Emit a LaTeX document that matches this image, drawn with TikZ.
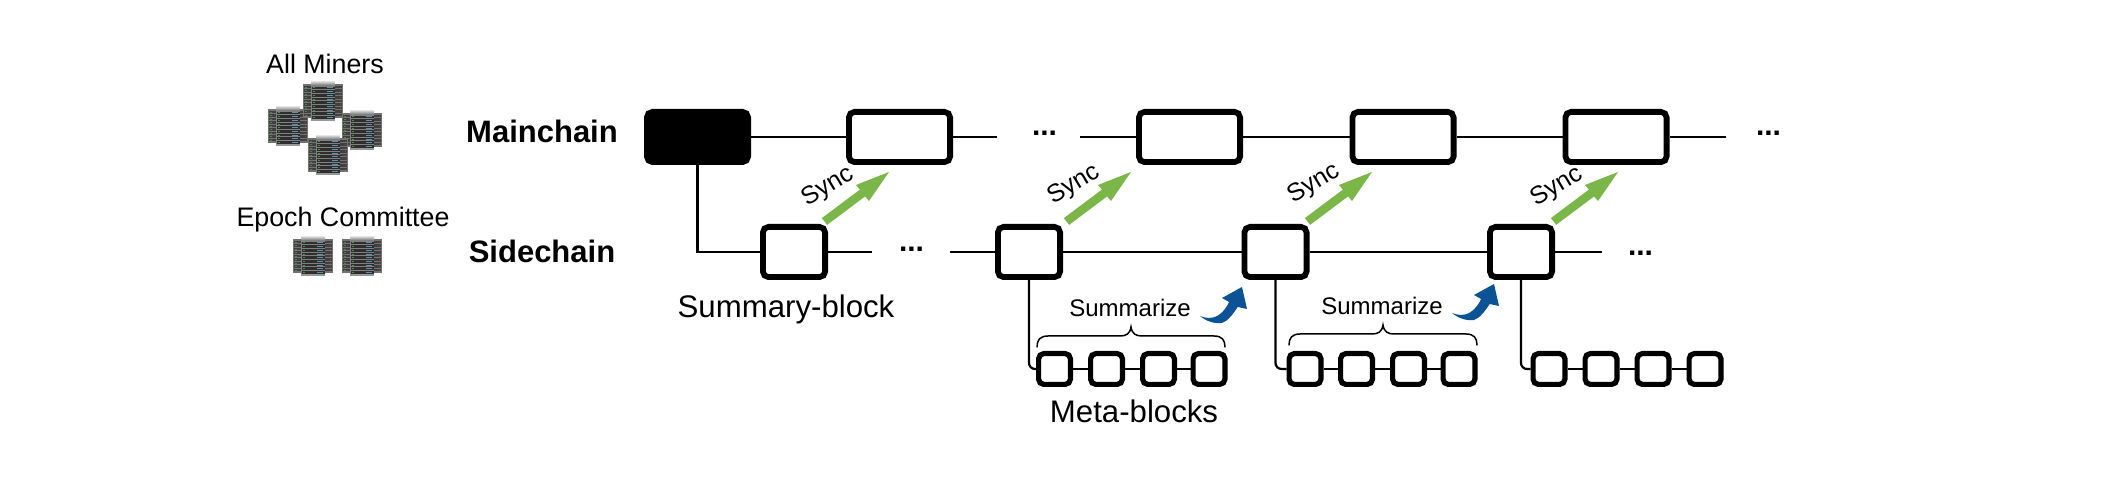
\documentclass[tikz,border=0pt]{standalone}
\usepackage{fontspec}
\setmainfont{Liberation Sans}
\definecolor{syncgreen}{HTML}{7AB648}
\definecolor{sumblue}{HTML}{0B5394}
\tikzset{
  mainblock/.style={draw=black,fill=white,line width=2.9pt,rounded corners=2.8pt,minimum width=50.6pt,minimum height=25.1pt,inner sep=0pt},
  sideblock/.style={draw=black,fill=white,line width=2.9pt,rounded corners=2.8pt,minimum width=31.1pt,minimum height=25.1pt,inner sep=0pt},
  metablock/.style={draw=black,fill=white,line width=2.6pt,rounded corners=2.6pt,minimum width=15.9pt,minimum height=15.4pt,inner sep=0pt},
  chain/.style={line width=1.4pt},
  branch/.style={line width=1.1pt,rounded corners=3pt},
  lbl/.style={inner sep=0pt,anchor=base,font=\fontsize{13.4}{15}\selectfont},
  bigl/.style={inner sep=0pt,anchor=base,font=\fontsize{15.6}{18}\selectfont},
  chainl/.style={inner sep=0pt,anchor=base,font=\fontsize{15.5}{18}\selectfont\bfseries},
  suml/.style={inner sep=0pt,anchor=base,font=\fontsize{12}{14}\selectfont},
  syncl/.style={inner sep=0pt,rotate=31,font=\fontsize{12.5}{14}\selectfont},
  dotsl/.style={inner sep=0pt,font=\fontsize{15}{16}\selectfont\bfseries},
  serverpic/.pic={
    % side wings
    \fill[black!55] (0,2) rectangle (8,36);
    \fill[black!55] (32,2) rectangle (40,36);
    \foreach \i in {0,...,8}{
      \fill[black!75] (1,{4+3.5*\i}) rectangle (8,{6.3+3.5*\i});
      \fill[black!75] (32,{4+3.5*\i}) rectangle (39,{6.3+3.5*\i});
      \fill[green!30!black!70] (2,{4.7+3.5*\i}) rectangle (3.5,{5.6+3.5*\i});
      \fill[red!35!black!75] (36.5,{4.7+3.5*\i}) rectangle (38,{5.6+3.5*\i});
    }
    % central unit
    \shade[top color=black!20,bottom color=black!60] (8,0) rectangle (32,4);
    \fill[black!50] (8,4) rectangle (32,39);
    \foreach \i in {0,...,8}{
      \fill[black!82] (8.5,{4.6+3.7*\i}) rectangle (31.5,{7.3+3.7*\i});
      \fill[green!35!black!70] (10,{5.5+3.7*\i}) rectangle (12,{6.5+3.7*\i});
      \fill[blue!30!cyan!50!black!65] (24,{5.5+3.7*\i}) rectangle (30,{6.5+3.7*\i});
    }
    \fill[black!40] (8,37) rectangle (32,39);
  },
  syncarrow/.pic={
    \fill[syncgreen] (-2.6,-3.4) -- (35.4,-31.9) -- (31.5,-36.5) -- (64.5,-49.5) -- (44.5,-20.5) -- (40.6,-25.1) -- (2.6,3.4) -- cycle;
  },
  sumarrow/.pic={
    \fill[sumblue] (0,0) .. controls (6,5) and (14,8) .. (22,7) .. controls (28,5) and (33,-2) .. (37.7,-9) -- (47,-7) -- (42,-29) -- (22,-18) -- (29,-14) .. controls (26,-7) and (20,0) .. (13,1.5) .. controls (8,2.5) and (4,1.5) .. (0,0) -- cycle;
  },
  bracepic/.pic={
    \draw[line width=0.75pt,line cap=round] (0,0) .. controls (0,-7) and (3,-11) .. (11,-11) -- (83,-11) .. controls (89,-11) and (93,-13) .. (94,-20) .. controls (95,-13) and (99,-11) .. (105,-11) -- (177,-11) .. controls (185,-11) and (188,-7) .. (188,0);
  },
}
\begin{document}
\begin{tikzpicture}[x=0.5pt,y=-0.5pt]
\useasboundingbox (0,0) rectangle (2122,501);
\fill[white] (0,0) rectangle (2122,501);

% servers
\pic at (268,107) {serverpic};
\pic at (303,82) {serverpic};
\pic at (342,111) {serverpic};
\pic at (308,136) {serverpic};
\pic at (293,237) {serverpic};
\pic at (342,237) {serverpic};

% labels
\node[lbl] (allminers) at (325,74) {All Miners};
\node[lbl] (epochcom) at (343,226.5) {Epoch Committee};
\node[chainl] (mainlabel) at (542,142.5) {Mainchain};
\node[chainl] (sidelabel) at (542,262.7) {Sidechain};
\node[bigl] (summarylabel) at (786,318) {Summary-block};
\node[bigl] (metalabel) at (1134,422.5) {Meta-blocks};
\node[suml] (sumA) at (1130,317) {Summarize};
\node[suml] (sumB) at (1382,315) {Summarize};

% main chain
\node[mainblock,fill=black] (m1) at (697.5,137) {};
\node[mainblock] (m2) at (899.5,137) {};
\node[mainblock] (m3) at (1189.5,137) {};
\node[mainblock] (m4) at (1403,137) {};
\node[mainblock] (m5) at (1616,137) {};

% side chain
\node[sideblock] (s1) at (794,252) {};
\node[sideblock] (s2) at (1029,252) {};
\node[sideblock] (s3) at (1275.5,252) {};
\node[sideblock] (s4) at (1521,252) {};

% meta blocks
\node[metablock] (a1) at (1054.5,369) {};
\node[metablock] (a2) at (1106.5,369) {};
\node[metablock] (a3) at (1158.5,369) {};
\node[metablock] (a4) at (1209,369) {};
\node[metablock] (b1) at (1305,369) {};
\node[metablock] (b2) at (1356.5,369) {};
\node[metablock] (b3) at (1408.5,369) {};
\node[metablock] (b4) at (1459,369) {};
\node[metablock] (c1) at (1549,369) {};
\node[metablock] (c2) at (1601,369) {};
\node[metablock] (c3) at (1653,369) {};
\node[metablock] (c4) at (1705,369) {};

% free line ends
\coordinate (e1) at (997,137);
\coordinate (e2) at (1080,137);
\coordinate (e3) at (1726,137);
\coordinate (e4) at (872,252);
\coordinate (e5) at (950,252);
\coordinate (e6) at (1602,252);

% dots
\node[dotsl] (d1) at (1044.5,133) {...};
\node[dotsl] (d2) at (1768.5,133) {...};
\node[dotsl] (d3) at (911.5,249) {...};
\node[dotsl] (d4) at (1640.5,253) {...};

% connectors
\draw[chain] (m1) -- (m2);
\draw[chain] (m2) -- (e1);
\draw[chain] (e2) -- (m3);
\draw[chain] (m3) -- (m4);
\draw[chain] (m4) -- (m5);
\draw[chain] (m5) -- (e3);
\draw[chain] (m1.south) |- (s1.west);
\draw[chain] (s1) -- (e4);
\draw[chain] (e5) -- (s2);
\draw[chain] (s2) -- (s3);
\draw[chain] (s3) -- (s4);
\draw[chain] (s4) -- (e6);
\draw[branch] (s2.south) |- (a1.west);
\draw[branch] (s3.south) |- (b1.west);
\draw[branch] (s4.south) |- (c1.west);
\draw[chain] (a1) -- (a2);
\draw[chain] (a2) -- (a3);
\draw[chain] (a3) -- (a4);
\draw[chain] (b1) -- (b2);
\draw[chain] (b2) -- (b3);
\draw[chain] (b3) -- (b4);
\draw[chain] (c1) -- (c2);
\draw[chain] (c2) -- (c3);
\draw[chain] (c3) -- (c4);

% sync arrows
\pic at (824.5,221.5) {syncarrow};
\pic at (1066.5,221.5) {syncarrow};
\pic at (1307.5,221.5) {syncarrow};
\pic at (1553.5,221.5) {syncarrow};
\node[syncl] (sy1) at (828,187) {Sync};
\node[syncl] (sy2) at (1074,185) {Sync};
\node[syncl] (sy3) at (1314,184) {Sync};
\node[syncl] (sy4) at (1557,187) {Sync};

% summarize arrows and braces
\pic at (1200,316) {sumarrow};
\pic at (1452,313) {sumarrow};
\pic at (1037,347) {bracepic};
\pic at (1289,345) {bracepic};
\end{tikzpicture}
\end{document}
